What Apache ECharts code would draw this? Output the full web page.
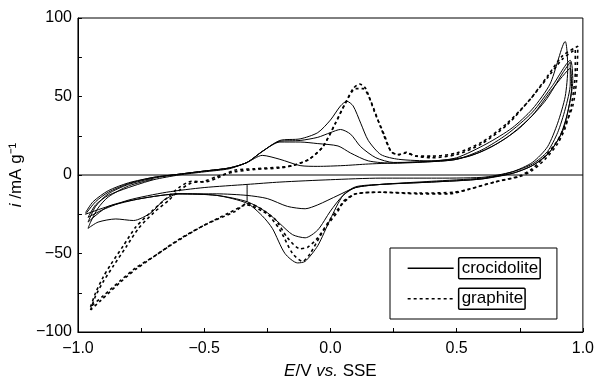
<!DOCTYPE html>
<html>
<head>
<meta charset="utf-8">
<script src="https://cdn.jsdelivr.net/npm/echarts@6/dist/echarts.min.js"></script>
<style>
  html, body { margin: 0; padding: 0; background: #fff; }
  #main { width: 597px; height: 385px; }
</style>
</head>
<body>
<div id="main"></div>
<script>
// cyclic voltammograms, E (V vs SSE) vs i (mA/g)
// crocidolite: four cycles, each one closed loop (anodic then cathodic sweep)
var croc1 = [
  [-0.96,-27],[-0.93,-19],[-0.88,-13],[-0.8,-8],[-0.7,-3],[-0.6,0],[-0.5,2],[-0.4,4],
  [-0.33,8],[-0.27,12.5],[-0.2,10],[-0.12,6],[-0.05,5.5],[0.05,6],[0.15,7],[0.3,8],
  [0.45,9.5],[0.55,12],[0.65,19],[0.75,30],[0.85,47],[0.92,65],[0.95,72],
  [0.95,58],[0.93,42],[0.9,27],[0.86,15],[0.8,7],[0.72,2],[0.6,-1.5],[0.4,-2],[0.2,-2],
  [0.0,-3],[-0.2,-4.5],[-0.33,-6],[-0.5,-8],[-0.65,-11],[-0.8,-16],[-0.9,-22],[-0.96,-27]
];
var croc2 = [
  [-0.97,-24],[-0.94,-17],[-0.88,-10],[-0.8,-5],[-0.7,-1.5],[-0.6,0.5],[-0.5,2.5],[-0.4,4.5],
  [-0.33,8],[-0.27,15],[-0.2,21],[-0.12,21],[-0.05,20],[0.03,18.5],[0.08,14],[0.15,9],
  [0.25,7.5],[0.4,8.5],[0.5,10],[0.6,15],[0.7,24],[0.8,38],[0.88,55],[0.95,68],
  [0.955,55],[0.94,40],[0.91,25],[0.86,13],[0.8,6],[0.72,1],[0.6,-2],[0.4,-4],[0.2,-6],[0.1,-8],
  [0.03,-13],[-0.05,-19],[-0.1,-21.5],[-0.17,-20],[-0.25,-15],[-0.33,-13],[-0.45,-12],
  [-0.6,-12],[-0.66,-16],[-0.71,-24],[-0.78,-29],[-0.85,-28],[-0.92,-30],[-0.96,-34],
  [-0.95,-30],[-0.92,-21],[-0.88,-14],[-0.8,-7],[-0.7,-2.5]
];
var croc3 = [
  [-0.96,-30],[-0.93,-20],[-0.88,-12],[-0.8,-6],[-0.7,-2],[-0.6,0.5],[-0.5,2.5],[-0.4,4.5],
  [-0.33,8],[-0.27,15],[-0.2,21.5],[-0.12,22],[-0.05,24],[0.0,27],[0.04,29],[0.08,26],
  [0.12,18],[0.18,11],[0.25,8],[0.4,8.5],[0.5,10],[0.6,16],[0.7,26],[0.8,40],[0.88,57],[0.95,73],
  [0.96,60],[0.945,44],[0.92,28],[0.87,15],[0.8,6],[0.72,1],[0.6,-2.5],[0.4,-4.5],[0.2,-6],[0.1,-8],
  [0.05,-13],[0.0,-23],[-0.05,-35],[-0.1,-40],[-0.15,-38],[-0.2,-31],[-0.25,-24],[-0.33,-17],
  [-0.45,-13],[-0.6,-12],[-0.75,-15],[-0.88,-20],[-0.96,-30]
];
var croc4 = [
  [-0.97,-25],[-0.93,-17],[-0.88,-11],[-0.8,-5.5],[-0.7,-1.5],[-0.6,0.5],[-0.5,2.5],[-0.4,4.5],
  [-0.33,8],[-0.27,15],[-0.2,22],[-0.12,23],[-0.05,27],[0.0,35],[0.04,44],[0.065,47],
  [0.09,44],[0.12,33],[0.15,22],[0.2,13],[0.27,10],[0.4,9],[0.5,11],[0.62,20],[0.72,30],
  [0.8,42],[0.87,58],[0.93,85],
  [0.94,68],[0.93,50],[0.9,33],[0.86,18],[0.8,8],[0.72,2],[0.6,-2.5],[0.4,-4.5],[0.2,-6],[0.1,-7.5],
  [0.05,-13],[0.0,-28],[-0.05,-45],[-0.1,-55],[-0.13,-56],[-0.18,-50],[-0.23,-34],[-0.27,-26],
  [-0.33,-18],[-0.45,-13],[-0.6,-12],[-0.75,-15],[-0.88,-20],[-0.97,-25]
];
var crocMark = [[-0.33,-6],[-0.33,-17]];

// graphite: two cycles
var graph1 = [
  [-0.95,-84],[-0.93,-75],[-0.9,-65],[-0.87,-57],[-0.82,-45],[-0.77,-33],[-0.7,-22],[-0.65,-15],
  [-0.6,-8],[-0.55,-4],[-0.5,-4.5],[-0.45,-2],[-0.38,3],[-0.3,4],[-0.2,5],[-0.15,6],
  [-0.085,10],[-0.03,18],[0.02,33],[0.06,46],[0.1,55],[0.13,55],[0.16,47],[0.2,30],
  [0.24,15],[0.27,13],[0.3,14],[0.34,12],[0.4,11],[0.5,13],[0.6,20],[0.7,32],[0.79,48],
  [0.86,62],[0.92,74],[0.97,80],
  [0.97,66],[0.955,45],[0.93,30],[0.9,20],[0.85,10],[0.8,3],[0.75,-1],[0.65,-4.5],[0.55,-9],
  [0.47,-12],[0.35,-12],[0.2,-11],[0.1,-12],[0.05,-18],[0.0,-28],[-0.05,-40],[-0.09,-46],
  [-0.12,-47],[-0.17,-40],[-0.22,-28],[-0.27,-23],[-0.33,-19],[-0.4,-24],[-0.5,-32],
  [-0.6,-41],[-0.7,-52],[-0.77,-59],[-0.83,-67],[-0.9,-77],[-0.95,-84]
];
var graph2 = [
  [-0.95,-86],[-0.93,-77],[-0.9,-68],[-0.86,-58],[-0.81,-46],[-0.76,-34],[-0.7,-24],[-0.64,-16],
  [-0.6,-10],[-0.55,-5],[-0.5,-4],[-0.45,-1],[-0.38,2],[-0.3,3.5],[-0.2,4.5],[-0.15,6],
  [-0.085,10],[-0.03,18],[0.02,33],[0.057,45],[0.09,55],[0.115,58],[0.14,55],[0.175,40],
  [0.215,25],[0.24,15],[0.27,13],[0.3,14.5],[0.34,12],[0.4,12],[0.5,14],[0.6,21],[0.7,33],
  [0.79,48],[0.86,63],[0.92,76],[0.98,82],
  [0.975,60],[0.96,44],[0.93,32],[0.9,22],[0.85,12],[0.8,4],[0.75,-0.5],[0.65,-4.5],[0.55,-9],
  [0.49,-11],[0.35,-11.5],[0.2,-11],[0.1,-12],[0.05,-17],[0.03,-23],[-0.03,-36],[-0.08,-50],
  [-0.11,-55],[-0.15,-50],[-0.2,-35],[-0.26,-23],[-0.33,-18],[-0.375,-23],[-0.5,-32],
  [-0.635,-45],[-0.77,-60],[-0.83,-68],[-0.91,-80],[-0.95,-86]
];

var crocLoops = [croc1, croc2, croc3, croc4, crocMark];
var graphLoops = [graph1, graph2];
var zeroLine = [[-1, 0], [1, 0]];

var fontFam = '"Liberation Sans", Arial, sans-serif';
var minus = function (s) { return String(s).replace('-', '\u2212'); };

var series = [];
crocLoops.forEach(function (d) {
  series.push({
    name: 'crocidolite', type: 'line', data: d, smooth: 0.25,
    showSymbol: false, symbol: 'none', silent: true,
    itemStyle: { color: '#000' },
    lineStyle: { color: '#000', width: 1 }
  });
});
graphLoops.forEach(function (d) {
  series.push({
    name: 'graphite', type: 'line', data: d, smooth: 0.25,
    showSymbol: false, symbol: 'none', silent: true,
    itemStyle: { color: '#000' },
    lineStyle: { color: '#000', width: 1.6, type: [3, 3] }
  });
});
series.push({
  name: 'zero', type: 'line', data: zeroLine, showSymbol: false, symbol: 'none',
  silent: true, lineStyle: { color: '#000', width: 1 }
});

var chart = echarts.init(document.getElementById('main'));
chart.setOption({
  animation: false,
  backgroundColor: '#fff',
  grid: { left: 74, right: 14, top: 18, bottom: 51, show: true, borderColor: '#000', borderWidth: 1 },
  legend: {
    data: ['crocidolite', 'graphite'],
    orient: 'vertical',
    left: 390, top: 248,
    width: 179,
    padding: [9, 16, 9, 17],
    itemGap: 8,
    itemWidth: 46, itemHeight: 14,
    borderColor: '#000', borderWidth: 1,
    itemStyle: { color: 'rgba(0,0,0,0)', borderWidth: 0 },
    lineStyle: { width: 1.3 },
    textStyle: {
      fontFamily: fontFam, fontSize: 17, color: '#000',
      borderColor: '#000', borderWidth: 1.5, borderRadius: 1, padding: [2, 2, 2, 3]
    }
  },
  xAxis: {
    type: 'value', min: -1, max: 1, interval: 0.5,
    name: '{it|E}/V {it|vs.} SSE',
    nameLocation: 'middle', nameGap: 31,
    nameTextStyle: {
      fontFamily: fontFam, fontSize: 17, color: '#000',
      rich: { it: { fontFamily: fontFam, fontSize: 17, fontStyle: 'italic', color: '#000' } }
    },
    axisLine: { onZero: false, lineStyle: { color: '#000', width: 1 } },
    axisTick: { inside: true, length: 4, lineStyle: { color: '#000' } },
    minorTick: { show: true, splitNumber: 2, length: 4, lineStyle: { color: '#000' } },
    splitLine: { show: false },
    axisLabel: {
      fontFamily: fontFam, fontSize: 16, color: '#000', margin: 9,
      formatter: function (v) { return minus(v.toFixed(1)); }
    }
  },
  yAxis: {
    type: 'value', min: -100, max: 100, interval: 50,
    name: '{it|i} /mA g\u207B\u00B9',
    nameLocation: 'middle', nameGap: 46,
    nameTextStyle: {
      fontFamily: fontFam, fontSize: 17, color: '#000',
      rich: { it: { fontFamily: fontFam, fontSize: 17, fontStyle: 'italic', color: '#000' } }
    },
    axisLine: { onZero: false, lineStyle: { color: '#000', width: 1 } },
    axisTick: { inside: true, length: 4, lineStyle: { color: '#000' } },
    minorTick: { show: true, splitNumber: 2, length: 4, lineStyle: { color: '#000' } },
    splitLine: { show: false },
    axisLabel: {
      fontFamily: fontFam, fontSize: 16, color: '#000', margin: 6,
      formatter: function (v) { return minus(v); }
    }
  },
  series: series
});
</script>
</body>
</html>
